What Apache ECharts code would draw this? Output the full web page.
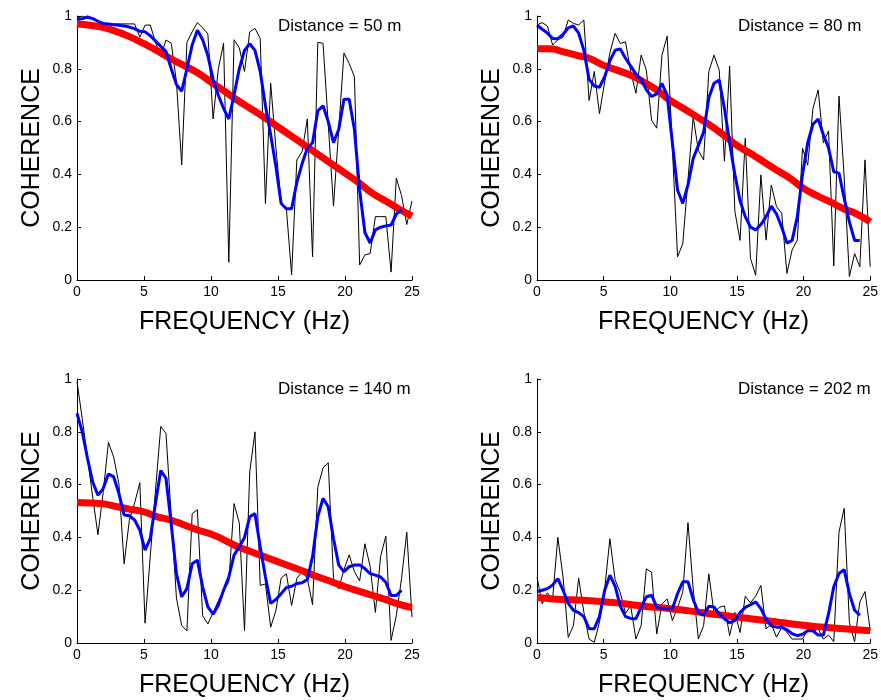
<!DOCTYPE html>
<html>
<head>
<meta charset="utf-8">
<script src="https://cdn.jsdelivr.net/npm/echarts@6/dist/echarts.min.js"></script>
<style>
  html, body { margin: 0; padding: 0; background: #fff; }
  #main { width: 881px; height: 700px; }
</style>
</head>
<body>
<div id="main"></div>
<script>
// frequency bins of the raw estimate (25/64 Hz apart) and of the fitted curve
const binFreq = Array.from({length: 65}, (_, k) => k * 25 / 64);
const fitFreq = [0, 1, 2, 3, 4, 5, 6, 7, 8, 9, 10, 11, 12, 13, 14, 15, 16, 17, 18, 19, 20, 21, 22, 23, 24, 25];
const distances = ['Distance = 50 m', 'Distance = 80 m', 'Distance = 140 m', 'Distance = 202 m'];

// raw coherence (thin black)
const raw50 = [0.99, 1.0, 0.99, 0.99, 0.98, 0.97, 0.97, 0.97, 0.97, 0.97,
  0.97, 0.97, 0.92, 0.965, 0.966, 0.90, 0.846, 0.909, 0.897, 0.75,
  0.436, 0.90, 0.94, 0.975, 0.955, 0.932, 0.61, 0.80, 0.897, 0.067,
  0.91, 0.88, 0.79, 0.94, 0.953, 0.915, 0.29, 0.745, 0.50, 0.29,
  0.27, 0.02, 0.455, 0.486, 0.61, 0.088, 0.90, 0.897, 0.59, 0.28,
  0.57, 0.86, 0.82, 0.77, 0.057, 0.095, 0.10, 0.24, 0.24, 0.24,
  0.03, 0.386, 0.32, 0.21, 0.30];
const raw80 = [0.966, 0.975, 0.962, 0.89, 0.91, 0.92, 0.985, 0.972, 0.966, 0.985,
  0.68, 0.79, 0.63, 0.75, 0.86, 0.934, 0.896, 0.902, 0.79, 0.707,
  0.852, 0.795, 0.606, 0.575, 0.852, 0.924, 0.50, 0.088, 0.138, 0.38,
  0.618, 0.49, 0.455, 0.79, 0.852, 0.795, 0.45, 0.81, 0.26, 0.15,
  0.537, 0.082, 0.018, 0.398, 0.151, 0.36, 0.278, 0.253, 0.025, 0.114,
  0.151, 0.50, 0.435, 0.65, 0.72, 0.52, 0.565, 0.053, 0.697, 0.39,
  0.013, 0.10, 0.05, 0.455, 0.05];
const raw140 = [0.99, 0.85, 0.70, 0.553, 0.41, 0.57, 0.76, 0.705, 0.604, 0.30,
  0.465, 0.53, 0.607, 0.075, 0.33, 0.58, 0.82, 0.794, 0.48, 0.17,
  0.066, 0.046, 0.49, 0.505, 0.104, 0.072, 0.115, 0.16, 0.20, 0.23,
  0.528, 0.455, 0.047, 0.648, 0.80, 0.218, 0.224, 0.06, 0.123, 0.246,
  0.262, 0.142, 0.245, 0.27, 0.245, 0.145, 0.59, 0.663, 0.683, 0.245,
  0.205, 0.278, 0.334, 0.27, 0.235, 0.376, 0.29, 0.116, 0.328, 0.405,
  0.01, 0.104, 0.244, 0.42, 0.098];
const raw202 = [0.25, 0.148, 0.19, 0.167, 0.40, 0.25, 0.021, 0.066, 0.246, 0.117,
  0.015, 0.003, 0.079, 0.205, 0.395, 0.24, 0.19, 0.113, 0.14, 0.015,
  0.066, 0.281, 0.268, 0.034, 0.148, 0.167, 0.085, 0.135, 0.192, 0.456,
  0.205, 0.015, 0.066, 0.262, 0.113, 0.135, 0.141, 0.028, 0.116, 0.04,
  0.177, 0.152, 0.177, 0.218, 0.053, 0.072, 0.022, 0.06, 0.041, 0.015,
  0.015, 0.015, 0.051, 0.043, 0.053, 0.015, 0.03, 0.005, 0.42, 0.51,
  0.078, 0.005, 0.155, 0.195, 0.047];

// smoothed coherence (blue), first 63 bins
const smooth50 = [0.987, 0.99, 0.996, 0.99, 0.98, 0.972, 0.97, 0.967, 0.965, 0.962,
  0.958, 0.952, 0.942, 0.94, 0.925, 0.905, 0.885, 0.865, 0.80, 0.74,
  0.715, 0.80, 0.89, 0.946, 0.91, 0.85, 0.76, 0.70, 0.65, 0.61,
  0.70, 0.80, 0.87, 0.895, 0.87, 0.79, 0.66, 0.55, 0.43, 0.29,
  0.27, 0.27, 0.37, 0.44, 0.50, 0.52, 0.64, 0.66, 0.60, 0.52,
  0.57, 0.685, 0.685, 0.57, 0.34, 0.18, 0.14, 0.19, 0.20, 0.205,
  0.208, 0.25, 0.266];
const smooth80 = [0.965, 0.95, 0.935, 0.915, 0.914, 0.93, 0.955, 0.962, 0.935, 0.87,
  0.76, 0.735, 0.73, 0.77, 0.83, 0.87, 0.875, 0.84, 0.81, 0.78,
  0.76, 0.72, 0.695, 0.705, 0.745, 0.70, 0.52, 0.34, 0.29, 0.36,
  0.46, 0.51, 0.56, 0.69, 0.745, 0.757, 0.65, 0.52, 0.40, 0.30,
  0.24, 0.20, 0.19, 0.21, 0.24, 0.28, 0.25, 0.20, 0.14, 0.15,
  0.24, 0.40, 0.52, 0.59, 0.61, 0.55, 0.50, 0.41, 0.405, 0.31,
  0.22, 0.15, 0.15];
const smooth140 = [0.87, 0.80, 0.70, 0.61, 0.56, 0.585, 0.64, 0.63, 0.567, 0.485,
  0.482, 0.466, 0.428, 0.352, 0.396, 0.53, 0.653, 0.624, 0.45, 0.263,
  0.175, 0.206, 0.30, 0.314, 0.213, 0.137, 0.109, 0.143, 0.20, 0.25,
  0.333, 0.365, 0.40, 0.478, 0.49, 0.365, 0.25, 0.15, 0.165, 0.187,
  0.21, 0.215, 0.225, 0.228, 0.24, 0.327, 0.478, 0.548, 0.516, 0.396,
  0.295, 0.27, 0.289, 0.295, 0.295, 0.282, 0.263, 0.257, 0.25, 0.23,
  0.18, 0.18, 0.20];
const smooth202 = [0.194, 0.20, 0.206, 0.22, 0.244, 0.20, 0.15, 0.124, 0.115, 0.10,
  0.054, 0.054, 0.10, 0.20, 0.257, 0.215, 0.14, 0.10, 0.093, 0.092,
  0.135, 0.175, 0.181, 0.137, 0.13, 0.13, 0.13, 0.187, 0.232, 0.232,
  0.165, 0.115, 0.105, 0.139, 0.136, 0.11, 0.092, 0.076, 0.086, 0.115,
  0.135, 0.145, 0.156, 0.13, 0.09, 0.065, 0.06, 0.06, 0.05, 0.035,
  0.028, 0.033, 0.046, 0.046, 0.03, 0.03, 0.111, 0.213, 0.263, 0.278,
  0.187, 0.124, 0.105];

// fitted model (thick red), at whole Hz
const fit50 = [0.97, 0.965, 0.956, 0.94, 0.92, 0.895, 0.868, 0.838, 0.812, 0.785,
  0.75, 0.715, 0.68, 0.648, 0.615, 0.58, 0.545, 0.51, 0.475, 0.44,
  0.405, 0.37, 0.33, 0.30, 0.27, 0.242];
const fit80 = [0.876, 0.876, 0.864, 0.851, 0.838, 0.813, 0.795, 0.776, 0.75, 0.719,
  0.68, 0.65, 0.618, 0.586, 0.549, 0.51, 0.48, 0.448, 0.416, 0.385,
  0.347, 0.32, 0.296, 0.27, 0.25, 0.22];
const fit140 = [0.532, 0.53, 0.527, 0.516, 0.506, 0.497, 0.478, 0.466, 0.447, 0.428,
  0.413, 0.39, 0.365, 0.346, 0.327, 0.308, 0.289, 0.27, 0.25, 0.232,
  0.213, 0.197, 0.181, 0.165, 0.147, 0.134];
const fit202 = [0.172, 0.168, 0.165, 0.163, 0.16, 0.156, 0.152, 0.146, 0.139, 0.135,
  0.13, 0.124, 0.118, 0.111, 0.105, 0.098, 0.092, 0.086, 0.08, 0.073,
  0.067, 0.062, 0.058, 0.054, 0.05, 0.046];

const panels = [
  {raw: raw50, smooth: smooth50, fit: fit50, left: 77, top: 16},
  {raw: raw80, smooth: smooth80, fit: fit80, left: 537, top: 16},
  {raw: raw140, smooth: smooth140, fit: fit140, left: 77, top: 379},
  {raw: raw202, smooth: smooth202, fit: fit202, left: 537, top: 379}
];

const font = 'Liberation Sans, Arial, Helvetica, sans-serif';
const pairs = (xs, ys) => ys.map((v, i) => [xs[i], v]);

const grid = [], xAxis = [], yAxis = [], series = [], title = [];
panels.forEach((p, i) => {
  grid.push({left: p.left, top: p.top, width: 335, height: 264});
  xAxis.push({
    type: 'value', gridIndex: i, min: 0, max: 25, interval: 5,
    name: 'FREQUENCY (Hz)', nameLocation: 'middle', nameGap: 30,
    nameTextStyle: {fontSize: 25, color: '#000', fontFamily: font},
    axisLine: {lineStyle: {color: '#000', width: 1}},
    axisTick: {inside: true, length: 4, lineStyle: {color: '#000'}},
    axisLabel: {fontSize: 14, color: '#000', margin: 5, fontFamily: font},
    splitLine: {show: false}
  });
  yAxis.push({
    type: 'value', gridIndex: i, min: 0, max: 1, interval: 0.2,
    name: 'COHERENCE', nameLocation: 'middle', nameGap: 32, nameRotate: 90,
    nameTextStyle: {fontSize: 25, color: '#000', fontFamily: font},
    axisLine: {show: true, lineStyle: {color: '#000', width: 1}},
    axisTick: {show: true, inside: true, length: 4, lineStyle: {color: '#000'}},
    axisLabel: {fontSize: 14, color: '#000', margin: 5, fontFamily: font},
    splitLine: {show: false}
  });
  title.push({
    text: distances[i], left: p.left + 201, top: p.top + 2, padding: 0,
    textStyle: {fontSize: 17, fontWeight: 'normal', color: '#000', fontFamily: font}
  });
  series.push({
    type: 'line', xAxisIndex: i, yAxisIndex: i, data: pairs(binFreq, p.raw),
    showSymbol: false, lineStyle: {color: '#000', width: 1}, z: 2
  });
  series.push({
    type: 'line', xAxisIndex: i, yAxisIndex: i, data: pairs(fitFreq, p.fit),
    showSymbol: false, smooth: true, lineStyle: {color: '#ff0000', width: 7}, z: 3
  });
  series.push({
    type: 'line', xAxisIndex: i, yAxisIndex: i, data: pairs(binFreq, p.smooth),
    showSymbol: false, lineStyle: {color: '#0000ff', width: 3}, z: 4
  });
});

const chart = echarts.init(document.getElementById('main'));
chart.setOption({
  backgroundColor: '#fff',
  animation: false,
  textStyle: {fontFamily: font},
  title, grid, xAxis, yAxis, series
});
</script>
</body>
</html>
